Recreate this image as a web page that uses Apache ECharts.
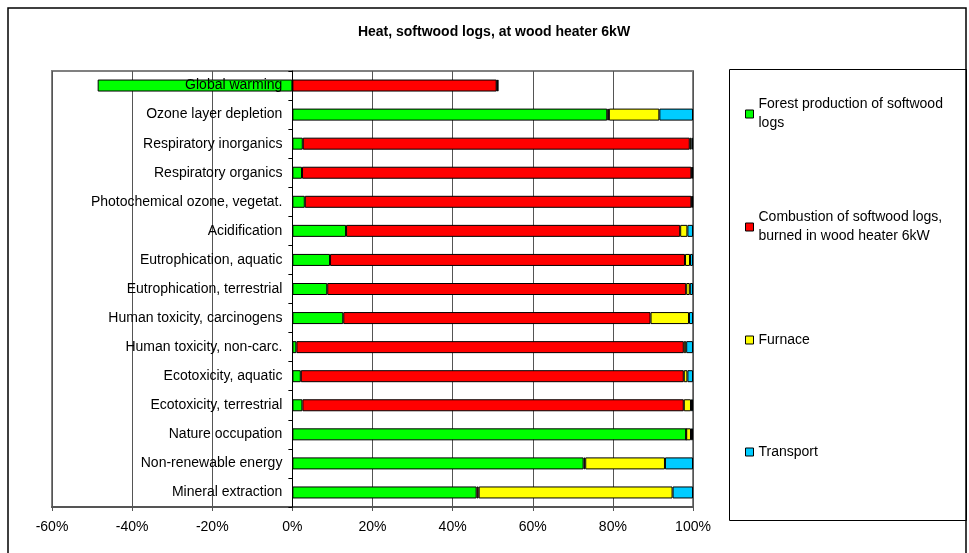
<!DOCTYPE html>
<html>
<head>
<meta charset="utf-8">
<script src="https://cdn.jsdelivr.net/npm/echarts@6/dist/echarts.min.js"></script>
<style>
html,body{margin:0;padding:0;background:#fff;}
#chart{width:969px;height:553px;}
</style>
</head>
<body>
<div id="chart"></div>
<script>
const categories = ['Global warming','Ozone layer depletion','Respiratory inorganics','Respiratory organics','Photochemical ozone, vegetat.','Acidification','Eutrophication, aquatic','Eutrophication, terrestrial','Human toxicity, carcinogens','Human toxicity, non-carc.','Ecotoxicity, aquatic','Ecotoxicity, terrestrial','Nature occupation','Non-renewable energy','Mineral extraction'];
const seriesNames = ['Forest production of softwood logs','Combustion of softwood logs, burned in wood heater 6kW','Furnace','Transport'];
const forest = [-48.6, 78.6, 2.6, 2.4, 3.1, 13.4, 9.4, 8.7, 12.7, 1.0, 2.1, 2.5, 98.3, 72.7, 46.0];
const combustion = [51.0, 0.4, 96.6, 97.2, 96.5, 83.4, 88.6, 89.6, 76.7, 96.7, 95.6, 95.2, 0.0, 0.4, 0.5];
const furnace = [0.2, 12.6, 0.4, 0.2, 0.2, 1.8, 1.25, 0.9, 9.6, 0.6, 0.9, 1.8, 1.2, 19.9, 48.4];
const transport = [0.2, 8.4, 0.4, 0.2, 0.2, 1.4, 0.75, 0.8, 1.0, 1.7, 1.4, 0.5, 0.5, 7.0, 5.1];
const xTicks = {min: -60, max: 100, interval: 20};
const colors = ['#00ff00', '#ff0000', '#ffff00', '#00ccff'];
const legendLabels = {
  'Forest production of softwood logs': 'Forest production of softwood\nlogs',
  'Combustion of softwood logs, burned in wood heater 6kW': 'Combustion of softwood logs,\nburned in wood heater 6kW',
  'Furnace': 'Furnace',
  'Transport': 'Transport'
};

const FONT = "'Liberation Sans', Arial, sans-serif";
const GRID_LEFT = 52;
const chart = echarts.init(document.getElementById('chart'), null, {renderer: 'canvas'});
const dataArr = [forest, combustion, furnace, transport];
const iconCenters = [114, 227, 340, 452];

const legends = seriesNames.map((n, i) => {
  const twoLine = legendLabels[n].indexOf('\n') >= 0;
  return {
    show: true,
    data: [n],
    left: 745,
    top: twoLine ? iconCenters[i] - 28.5 : iconCenters[i] - 9.5,
    padding: 0,
    itemWidth: 8,
    itemHeight: 8,
    itemGap: 6,
    icon: 'rect',
    selectedMode: false,
    itemStyle: {borderColor: '#000', borderWidth: 1},
    formatter: name => legendLabels[name],
    textStyle: {
      fontFamily: FONT, fontSize: 14, color: '#000', lineHeight: 19,
      padding: twoLine ? [19, 0, 0, 0] : 0
    }
  };
});

chart.setOption({
  animation: false,
  title: {
    text: 'Heat, softwood logs, at wood heater 6kW',
    left: 489, top: 20, textAlign: 'center',
    textStyle: {fontFamily: FONT, fontSize: 14, fontWeight: 'bold', color: '#000'}
  },
  graphic: [
    {type: 'rect', shape: {x: 8, y: 8, width: 958, height: 570}, style: {fill: 'none', stroke: '#000', lineWidth: 1.5}, silent: true, z: -10},
    {type: 'rect', shape: {x: 729.5, y: 69.5, width: 237, height: 451}, style: {fill: 'none', stroke: '#000', lineWidth: 1}, silent: true, z: -10}
  ],
  legend: legends,
  grid: {
    left: GRID_LEFT, right: 276, top: 71, bottom: 46,
    show: true, borderColor: '#808080', borderWidth: 2,
    containLabel: false, outerBoundsMode: 'none'
  },
  xAxis: {
    type: 'value',
    min: xTicks.min, max: xTicks.max, interval: xTicks.interval,
    axisLine: {show: true, lineStyle: {color: '#555', width: 2}},
    axisTick: {show: true, length: 4, lineStyle: {color: '#555'}},
    splitLine: {show: true, lineStyle: {color: '#555', width: 1}},
    axisLabel: {formatter: '{value}%', fontFamily: FONT, fontSize: 14, color: '#000', margin: 13}
  },
  yAxis: {
    type: 'category',
    data: categories,
    inverse: true,
    z: 5,
    axisLine: {show: true, onZero: false, lineStyle: {color: '#000', width: 1}},
    axisTick: {show: true, length: 4, lineStyle: {color: '#000'}},
    axisLabel: {fontFamily: FONT, fontSize: 14, color: '#000', margin: 10},
    splitLine: {show: false}
  },
  series: seriesNames.map((n, i) => ({
    name: n,
    type: 'bar',
    stack: 'total',
    barWidth: 12,
    data: dataArr[i],
    itemStyle: {color: colors[i], borderColor: '#000', borderWidth: 1},
    emphasis: {disabled: true}
  }))
});

// Move the category axis (line, ticks and labels) to the x = 0 position of the value axis
const zeroPx = chart.convertToPixel({xAxisIndex: 0}, 0);
chart.setOption({yAxis: {offset: -(zeroPx - GRID_LEFT)}});
</script>
</body>
</html>
